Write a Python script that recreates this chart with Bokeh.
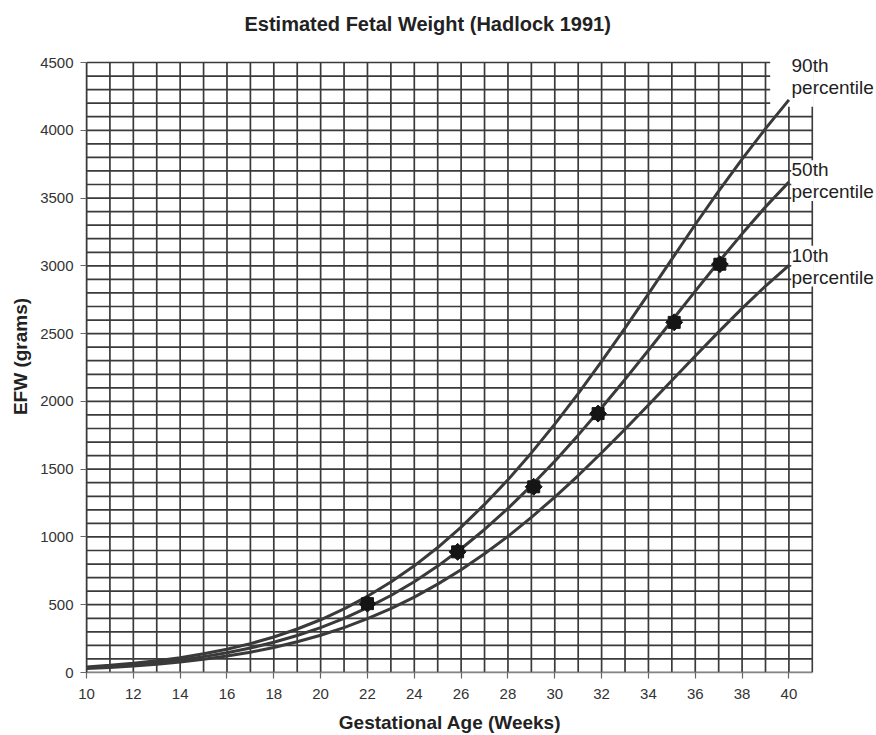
from bokeh.plotting import figure
from bokeh.models import Range1d, FixedTicker, LinearAxis
from bokeh.embed import file_html
from bokeh.resources import INLINE

# ---- data ----
weeks = list(range(10, 41))
p50 = [35, 45, 58, 73, 93, 117, 146, 181, 223, 273, 331, 399, 478, 568, 670, 785,
       913, 1055, 1210, 1379, 1559, 1751, 1953, 2162, 2377, 2595, 2813, 3028, 3236,
       3435, 3619]
p90 = [41, 53, 68, 86, 109, 138, 172, 213, 262, 321, 389, 469, 562, 667, 787, 922,
       1073, 1240, 1422, 1620, 1832, 2057, 2295, 2540, 2793, 3049, 3305, 3551, 3787,
       4012, 4224]
p10 = [29, 37, 48, 61, 77, 97, 121, 150, 185, 227, 275, 331, 397, 471, 556, 652,
       758, 876, 1004, 1145, 1294, 1453, 1621, 1794, 1973, 2154, 2335, 2513, 2686,
       2851, 3004]
pt_weeks = [22.0, 25.85, 29.1, 31.85, 35.1, 37.05]
pt_efw = [508, 890, 1370, 1910, 2583, 3012]

x_ticks = list(range(10, 41, 2))
y_ticks = list(range(0, 4501, 500))
x_grid = list(range(10, 42))
y_grid = list(range(0, 4501, 100))
series_labels = ["90th\npercentile", "50th\npercentile", "10th\npercentile"]

FONT = "Liberation Sans"
GRID = "#3a3a3a"
CURVE = "#3a3a3a"

# label anchors next to the curve ends (centre of each two-line label)
label_y = [p90[-1] + 175, p50[-1] + 10, p10[-1] - 6]
box_left = [weeks[-1] - 0.8, weeks[-1] + 0.1, weeks[-1] + 0.1]
box_below = [225, 150, 150]
box_above = [160, 150, 150]

PX_PER_G = 610 / 4500   # vertical scale of the reference
TOP_GAP = 22            # px of empty frame above the 4500 line

p = figure(width=876, height=735, output_backend="svg", toolbar_location=None,
           x_range=Range1d(10, 41.05),
           y_range=Range1d(0, y_grid[-1] + TOP_GAP / PX_PER_G),
           min_border_left=86, min_border_right=62, min_border_top=40,
           min_border_bottom=63)
p.background_fill_color = "white"
p.border_fill_color = "white"
p.outline_line_color = None
p.xgrid.grid_line_color = None
p.ygrid.grid_line_color = None

p.title.text = "Estimated Fetal Weight (Hadlock 1991)"
p.title.text_font = FONT
p.title.text_font_size = "20px"
p.title.text_font_style = "bold"
p.title.text_color = "#222222"
p.title.align = "left"
p.title.offset = 158
p.title.standoff = 12

# grid drawn as segments so it stops at 4500 g / week 41
p.segment(x0=x_grid, x1=x_grid, y0=[y_grid[0]] * len(x_grid),
          y1=[y_grid[-1]] * len(x_grid), line_color=GRID, line_width=1.7)
p.segment(x0=[x_grid[0]] * len(y_grid), x1=[x_grid[-1]] * len(y_grid),
          y0=y_grid, y1=y_grid, line_color=GRID, line_width=1.7)

# white backgrounds behind the percentile labels
p.quad(left=box_left, right=[x_grid[-1] + 0.2] * 3,
       bottom=[ly - b for ly, b in zip(label_y, box_below)],
       top=[ly + a for ly, a in zip(label_y, box_above)],
       fill_color="white", line_color=None)

# axes
p.xaxis.ticker = FixedTicker(ticks=x_ticks)
p.yaxis.ticker = FixedTicker(ticks=y_ticks)
p.xaxis.bounds = (x_grid[0], x_grid[-1])
p.yaxis.bounds = (y_grid[0], y_grid[-1])
for ax in (p.xaxis, p.yaxis):
    ax.axis_line_width = 1.5
    ax.major_tick_line_color = "#666666"
    ax.major_tick_line_width = 1.2
    ax.major_tick_out = 6
    ax.major_tick_in = 0
    ax.minor_tick_line_color = None
    ax.major_label_text_font = FONT
    ax.major_label_text_font_size = "15px"
    ax.major_label_text_color = "#333333"
    ax.axis_label_text_font = FONT
    ax.axis_label_text_font_size = "19px"
    ax.axis_label_text_font_style = "bold"
    ax.axis_label_text_color = "#222222"
p.xaxis.axis_line_color = "#858585"
p.yaxis.axis_line_color = GRID
p.xaxis.major_label_standoff = 10
p.yaxis.major_label_standoff = 7
p.xaxis.axis_label = "Gestational Age (Weeks)"
p.yaxis.axis_label = "EFW (grams)"
p.xaxis.axis_label_standoff = 10
p.yaxis.axis_label_standoff = 6

# percentile labels as a label-only axis on the right
lab_axis = LinearAxis(ticker=FixedTicker(ticks=label_y),
                      major_label_overrides={ly: t for ly, t in zip(label_y, series_labels)},
                      axis_line_color=None, major_tick_line_color=None,
                      minor_tick_line_color=None, major_tick_out=0, major_tick_in=0,
                      major_label_standoff=-22,
                      major_label_text_font=FONT, major_label_text_font_size="19px",
                      major_label_text_color="#222222",
                      major_label_text_line_height=1.05)
p.add_layout(lab_axis, "right")

# curves
for ys in (p90, p50, p10):
    p.line(weeks, ys, line_color=CURVE, line_width=3)

# patient points (8-point star made of two squares)
p.scatter(pt_weeks, pt_efw, marker="square", size=12, fill_color="#151515",
          line_color="#151515")
p.scatter(pt_weeks, pt_efw, marker="square", size=12, angle=0.785,
          fill_color="#151515", line_color="#151515")

open("out.html", "w").write(file_html(p, INLINE))
